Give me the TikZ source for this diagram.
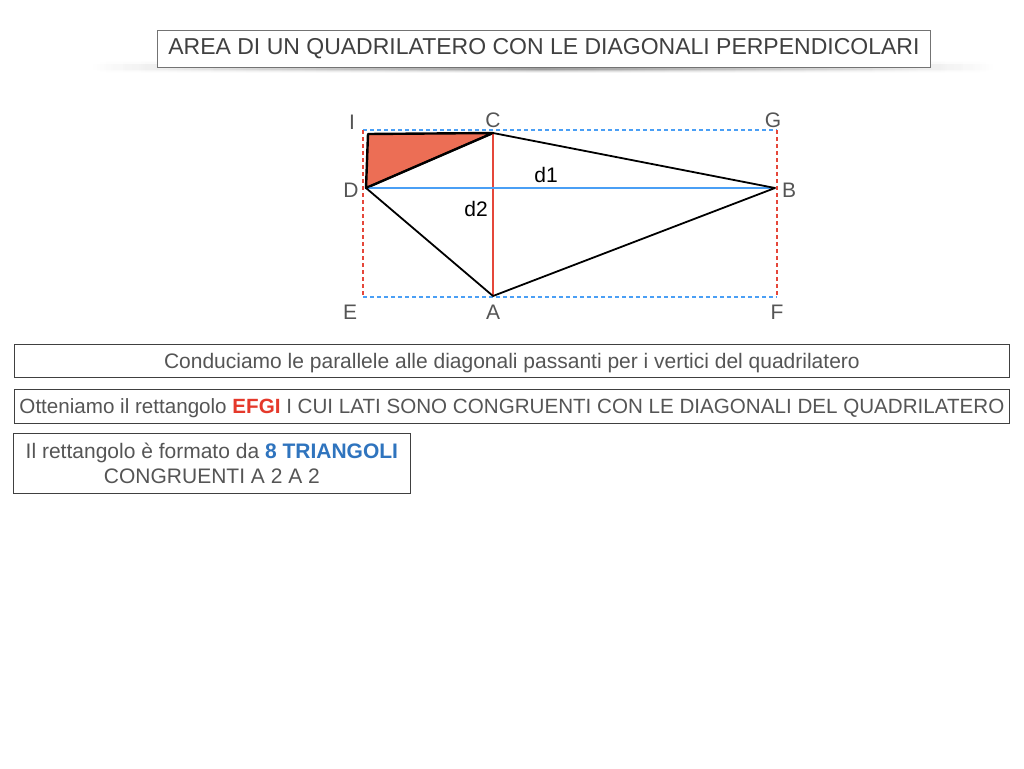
\documentclass[tikz,border=0pt]{standalone}
\usepackage{fontspec}
\setmainfont{Liberation Sans}
\usetikzlibrary{fadings}
\definecolor{txt}{HTML}{555555}
\definecolor{redc}{HTML}{E5392B}
\definecolor{bluec}{HTML}{2F74BE}
\definecolor{bline}{HTML}{4A9FF5}
\definecolor{rline}{HTML}{E5473A}
\definecolor{trifill}{HTML}{EC6E55}
\tikzfading[name=hfade, left color=transparent!100, right color=transparent!100, middle color=transparent!0]
\tikzset{
  textbox/.style={draw=black!75, line width=0.8pt, fill=white, text=txt, font=\fontsize{21}{25}\selectfont, inner sep=0pt},
  vlabel/.style={text=txt, font=\fontsize{21}{25}\selectfont, inner sep=0pt},
  dlabel/.style={text=black, font=\fontsize{21}{25}\selectfont, inner sep=0pt},
  bdash/.style={draw=bline, line width=1.8pt, dash pattern=on 4pt off 3pt},
  rdash/.style={draw=rline, line width=1.8pt, dash pattern=on 4pt off 3pt},
  quad/.style={draw=black, line width=1.8pt, line join=round},
}
\begin{document}
\begin{tikzpicture}[x=1pt,y=-1pt]
\useasboundingbox[fill=white] (0,0) rectangle (1024,768);
% title shadow
\foreach \h/\o in {5/0.18,7/0.12,9/0.08,11/0.05}{
  \fill[black, opacity=\o, path fading=hfade] (90,{67-\h/2}) rectangle (995,{67+\h/2});
}
\node[draw=black!55, line width=0.8pt, fill=white, minimum width=773pt, minimum height=37pt, inner sep=0pt, anchor=north west, text=black!75, font=\fontsize{23}{26}\selectfont] (title) at (157,30) {AREA DI UN QUADRILATERO CON LE DIAGONALI PERPENDICOLARI};

% points
\coordinate (I) at (363,130);
\coordinate (G) at (777,130);
\coordinate (E) at (363,297);
\coordinate (F) at (777,297);
\coordinate (C) at (493,133);
\coordinate (D) at (366,188);
\coordinate (B) at (775,188);
\coordinate (A) at (493,296);
\coordinate (T) at (368,134);

% rectangle EFGI
\draw[bdash] (I) -- (G);
\draw[bdash] (E) -- (F);
\draw[rdash] (I) -- (E);
\draw[rdash] (G) -- (F);

% shaded triangle
\fill[trifill] (T) -- (C) -- (D) -- cycle;
\draw[quad, line width=2.4pt] (D) -- (T) -- (C) -- cycle;

% diagonals
\draw[draw=rline, line width=1.6pt] (C) -- (A);
\draw[draw=bline, line width=1.6pt] (D) -- (B);

% quadrilateral
\draw[quad] (D) -- (C) -- (B) -- (A) -- cycle;

% labels
\node[vlabel] (lI) at (352,122) {I};
\node[vlabel] (lC) at (493,120) {C};
\node[vlabel] (lG) at (773,120) {G};
\node[vlabel] (lD) at (351,190) {D};
\node[vlabel] (lB) at (789,190) {B};
\node[vlabel] (lE) at (350,312) {E};
\node[vlabel] (lA) at (493,312) {A};
\node[vlabel] (lF) at (777,312) {F};
\node[dlabel] (d1) at (546,175) {d1};
\node[dlabel] (d2) at (476,209) {d2};

% text boxes
\node[textbox, minimum width=995pt, minimum height=33pt, anchor=north west, text depth=1pt] (b1) at (14,344) {Conduciamo le parallele alle diagonali passanti per i vertici del quadrilatero};
\node[textbox, minimum width=995pt, minimum height=34pt, anchor=north west, text depth=1pt, font=\fontsize{20.6}{25}\selectfont] (b2) at (14,389) {Otteniamo il rettangolo \textbf{\textcolor{redc}{EFGI}} I CUI LATI SONO CONGRUENTI CON LE DIAGONALI DEL QUADRILATERO};
\node[textbox, minimum width=397pt, minimum height=60pt, anchor=north west, align=center] (b3) at (13,433) {Il rettangolo è formato da \textbf{\textcolor{bluec}{8 TRIANGOLI}}\\[-0.5pt]CONGRUENTI A 2 A 2};
\end{tikzpicture}
\end{document}
